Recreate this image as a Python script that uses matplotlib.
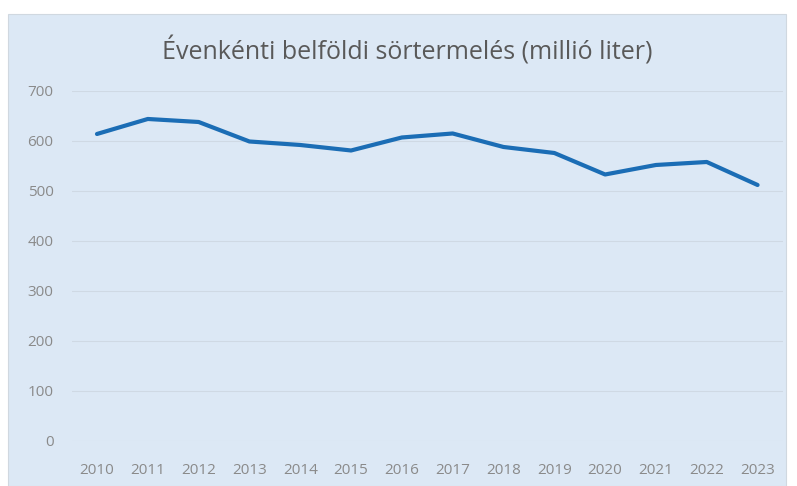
import matplotlib.pyplot as plt
from matplotlib.patches import Rectangle

evek = ['2010', '2011', '2012', '2013', '2014', '2015', '2016',
        '2017', '2018', '2019', '2020', '2021', '2022', '2023']
termeles = [614, 644, 638, 599, 592, 581, 607, 615, 588, 576, 533, 552, 558, 512]
y_ticks = [0, 100, 200, 300, 400, 500, 600, 700]

hatter = '#dce8f5'
vonal = '#1b6db5'
szurke = '#8a8a8a'

plt.rcParams['font.family'] = ['Open Sans', 'DejaVu Sans']

fig = plt.figure(figsize=(7.97, 4.86), dpi=100)
fig.patch.set_facecolor('white')
# hatter doboz (a diagram terulete)
fig.patches.append(Rectangle((8 / 797, 0), 778 / 797, 472 / 486,
                             transform=fig.transFigure, facecolor=hatter,
                             edgecolor='#d0d8e0', linewidth=0.8, zorder=-10))

ax = fig.add_axes([0.0898, 0.0926, 0.8926, 0.7202])
ax.set_facecolor('none')
ax.set_zorder(5)

x = list(range(len(evek)))
ax.plot(x, termeles, color=vonal, linewidth=3, solid_joinstyle='round',
        solid_capstyle='round', zorder=3)

ax.set_xlim(-0.5, len(evek) - 0.5)
ax.set_ylim(0, 700)
ax.set_yticks(y_ticks)
ax.set_xticks(x)
ax.set_xticklabels(evek)
ax.grid(axis='y', color='#cfd9e4', linewidth=0.8)
ax.set_axisbelow(True)
for s in ax.spines.values():
    s.set_visible(False)
ax.tick_params(axis='both', length=0, colors=szurke, labelsize=11)
ax.tick_params(axis='y', pad=13)
ax.tick_params(axis='x', pad=16)

fig.text(0.511, 0.895, 'Évenkénti belföldi sörtermelés (millió liter)',
         ha='center', va='center', fontsize=18, color='#595959', zorder=6)

fig.savefig('out.png', dpi=100)
